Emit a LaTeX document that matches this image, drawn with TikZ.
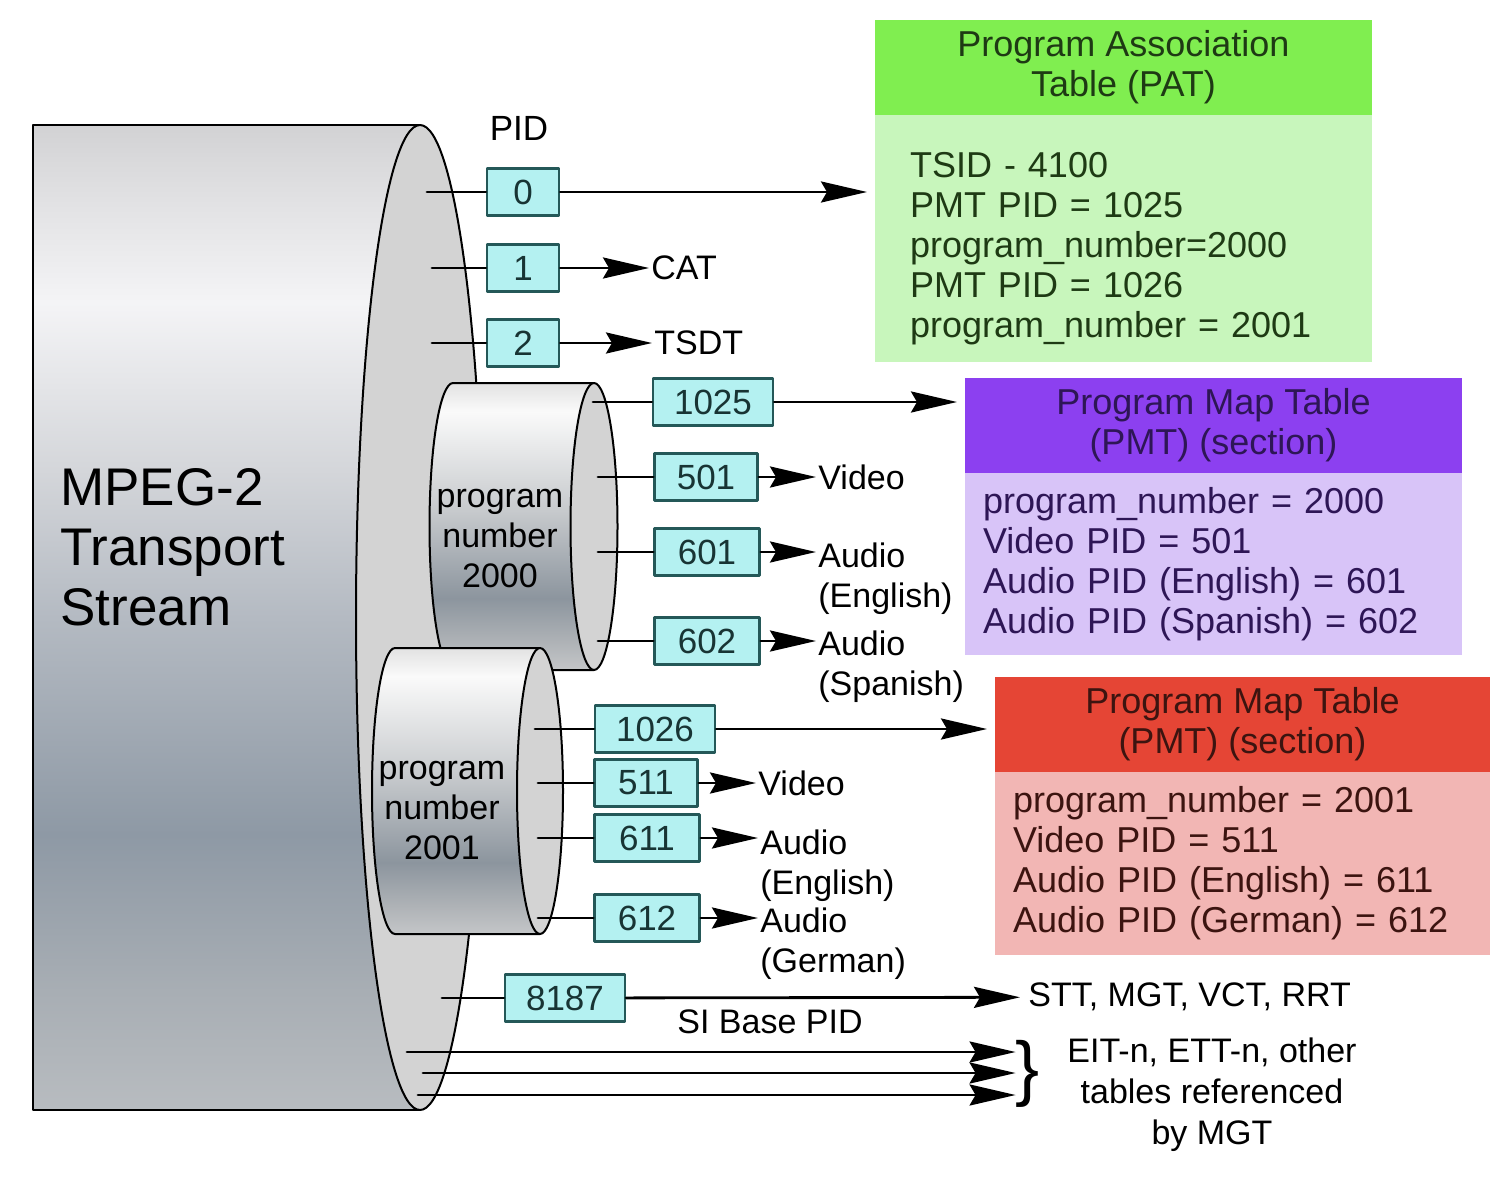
\documentclass[tikz,border=0pt]{standalone}
\usepackage{fontspec}
\setmainfont{Liberation Sans}
\usetikzlibrary{arrows.meta,positioning}

\definecolor{pidfill}{HTML}{B4F1F1}
\definecolor{piddraw}{HTML}{245858}
\definecolor{pidtext}{HTML}{183434}
\definecolor{cylface}{HTML}{D3D3D3}
\definecolor{patHeadC}{HTML}{80EE50}
\definecolor{patBodyC}{HTML}{C8F6BC}
\definecolor{patText}{HTML}{1E3A14}
\definecolor{pmtAHeadC}{HTML}{8C40F0}
\definecolor{pmtABodyC}{HTML}{D8C4F8}
\definecolor{pmtAText}{HTML}{2E1656}
\definecolor{pmtBHeadC}{HTML}{E54535}
\definecolor{pmtBBodyC}{HTML}{F2B6B4}
\definecolor{pmtBText}{HTML}{3C1410}
% big cylinder, top to bottom
\definecolor{bc0}{HTML}{D2D2D4}
\definecolor{bc1}{HTML}{E2E2E4}
\definecolor{bc2}{HTML}{F4F4F6}
\definecolor{bc3}{HTML}{D4D6DA}
\definecolor{bc4}{HTML}{B4BAC2}
\definecolor{bc5}{HTML}{8E99A5}
\definecolor{bc6}{HTML}{A8AEB4}
\definecolor{bc7}{HTML}{B8BCC0}
% small cylinders, top to bottom
\definecolor{sc0}{HTML}{E2E2E2}
\definecolor{sc1}{HTML}{FAFAFA}
\definecolor{sc2}{HTML}{C6C9CC}
\definecolor{sc3}{HTML}{8C959E}
\definecolor{sc4}{HTML}{AEB2B6}
\definecolor{sc5}{HTML}{C4C6C8}
\pgfdeclareverticalshading{bigcyl}{100bp}{color(0bp)=(bc7); color(25bp)=(bc7); color(31bp)=(bc6); color(39bp)=(bc5); color(50bp)=(bc4); color(57.5bp)=(bc3); color(66bp)=(bc2); color(71bp)=(bc1); color(75bp)=(bc0); color(100bp)=(bc0)}
\pgfdeclareverticalshading{smallcyl}{100bp}{color(0bp)=(sc5); color(25bp)=(sc5); color(30bp)=(sc4); color(37.5bp)=(sc3); color(52.5bp)=(sc2); color(70bp)=(sc1); color(75bp)=(sc0); color(100bp)=(sc0)}

\begin{document}
\begin{tikzpicture}[x=0.5pt,y=-0.5pt, line join=round, line cap=round,
  >={Stealth[length=23pt,width=10.5pt,inset=3pt]},
  font=\fontsize{17}{20}\selectfont,
  pidbox/.style={draw=piddraw, line width=1.2pt, fill=pidfill, text=pidtext, minimum height=23.5pt, inner sep=0pt, font=\fontsize{17.5}{20}\selectfont},
  lbl/.style={inner sep=0pt, anchor=west},
  lbl2/.style={inner sep=0pt, anchor=north west, align=left},
  tabhead/.style={inner sep=0pt, outer sep=0pt, minimum height=47.5pt, align=center, font=\fontsize{18}{20}\selectfont},
  tabbody/.style={inner ysep=0pt, outer sep=0pt, align=left, font=\fontsize{18}{20}\selectfont},
  cyl/.style={draw, line width=1pt},
  link/.style={line width=1.4pt}]
\fill[white] (0,0) rectangle (1500,1178);
\useasboundingbox (0,0) rectangle (1500,1178);

% transport stream
\shade[shading=bigcyl, cyl] (420,125) -- (33,125) -- (33,1110) -- (420,1110);
\draw[cyl, fill=cylface] (420,617.5) ellipse [x radius=64, y radius=492.5];
\node[lbl2, font=\fontsize{26.5}{30}\selectfont] (ts) at (60,468) {MPEG-2\\Transport\\Stream};

% programs
\shade[shading=smallcyl, cyl] (594,383) -- (453,383) arc[start angle=270, end angle=90, x radius=23.5, y radius=143.5] -- (594,670);
\draw[cyl, fill=cylface] (594,526.5) ellipse [x radius=23.5, y radius=143.5];
\node[align=center, inner sep=0pt] (prgA) at (500,539) {program\\number\\2000};
\shade[shading=smallcyl, cyl] (540,648) -- (395,648) arc[start angle=270, end angle=90, x radius=23, y radius=143] -- (540,934);
\draw[cyl, fill=cylface] (540,791) ellipse [x radius=23, y radius=143];
\node[align=center, inner sep=0pt] (prgB) at (442,811) {program\\number\\2001};

% PIDs
\node[font=\fontsize{17.5}{20}\selectfont] (pidt) at (519,128) {PID};
\foreach \n/\x/\y/\w/\s in {0/523/192/36pt/427, 1/523/268/36pt/432, 2/523/343/36pt/432, 1025/713/402/60pt/593, 501/706/477/51.5pt/598, 601/707/552/52.5pt/598, 602/707/641/52.5pt/598, 1026/655/729/60pt/535, 511/646/783/51.5pt/538, 611/647/838/52.5pt/538, 612/647/918/52.5pt/538, 8187/565/998/60pt/442}{
  \node[pidbox, minimum width=\w] (p\n) at (\x,\y) {\n};
  \coordinate (s\n) at (\s,\y);
  \draw[link] (s\n) -- (p\n);
}

% labels
\node[lbl] (cat) at (651,268) {CAT};
\node[lbl] (tsdt) at (654,343) {TSDT};
\node[lbl] (vidA) at (818,477) {Video};
\node[lbl2] (engA) at (818,542) {Audio\\(English)};
\node[lbl2] (spaA) at (818,630) {Audio\\(Spanish)};
\node[lbl] (vidB) at (758,783) {Video};
\node[lbl2] (engB) at (760,829) {Audio\\(English)};
\node[lbl2] (gerB) at (760,907) {Audio\\(German)};
\node[lbl] (stt) at (1028,997) {STT, MGT, VCT, RRT};
\node (sib) at (770,1022) {SI Base PID};

% tables
\node[tabhead, fill=patHeadC, text=patText, minimum width=248.5pt] (patH) at (1123.5,67.5) {Program Association\\Table (PAT)};
\node[tabbody, fill=patBodyC, text=patText, below=0pt of patH, minimum height=123.5pt, text width=213.5pt, inner xsep=17.5pt] (patB) {\rule{0pt}{23pt}TSID - 4100\\PMT PID = 1025\\program\_number=2000\\PMT PID = 1026\\program\_number = 2001};
\node[tabhead, fill=pmtAHeadC, text=pmtAText, minimum width=248.5pt] (pmtAH) at (1213.5,425.5) {Program Map Table\\(PMT) (section)};
\node[tabbody, fill=pmtABodyC, text=pmtAText, below=0pt of pmtAH, minimum height=91pt, text width=230.5pt, inner xsep=9pt] (pmtAB) {program\_number = 2000\\Video PID = 501\\Audio PID (English) = 601\\Audio PID (Spanish) = 602};
\node[tabhead, fill=pmtBHeadC, text=pmtBText, minimum width=247.5pt] (pmtBH) at (1242.5,724.5) {Program Map Table\\(PMT) (section)};
\node[tabbody, fill=pmtBBodyC, text=pmtBText, below=0pt of pmtBH, minimum height=91.5pt, text width=229.5pt, inner xsep=9pt] (pmtBB) {program\_number = 2001\\Video PID = 511\\Audio PID (English) = 611\\Audio PID (German) = 612};

% connectors
\foreach \a/\b in {1/cat, 2/tsdt, 501/vidA, 601/engA, 602/spaA, 511/vidB, 611/engB, 612/gerB}
  \draw[link,->,shorten >=1pt] (p\a) -- (p\a -| \b.west);
\draw[link,->,shorten >=4pt] (p8187) -- (stt);
\foreach \a/\b in {0/patB, 1025/pmtAH, 1026/pmtBH}
  \draw[link,->,shorten >=4pt] (p\a) -- (p\a -| \b.west);

% other tables
\node[inner sep=0pt, font=\fontsize{36}{36}\selectfont] (brace) at (1028,1074) {\}};
\foreach \x/\y [count=\i] in {407/1052, 423/1073, 418/1095}{
  \coordinate (e\i) at (\x,\y);
  \draw[link,->] (e\i) -- (e\i -| brace.west);
}
\node[align=center, anchor=north, inner sep=0pt, font=\fontsize{17}{20.5}\selectfont] (eit) at (1212,1037) {EIT-n, ETT-n, other\\tables referenced\\by MGT};
\end{tikzpicture}
\end{document}
